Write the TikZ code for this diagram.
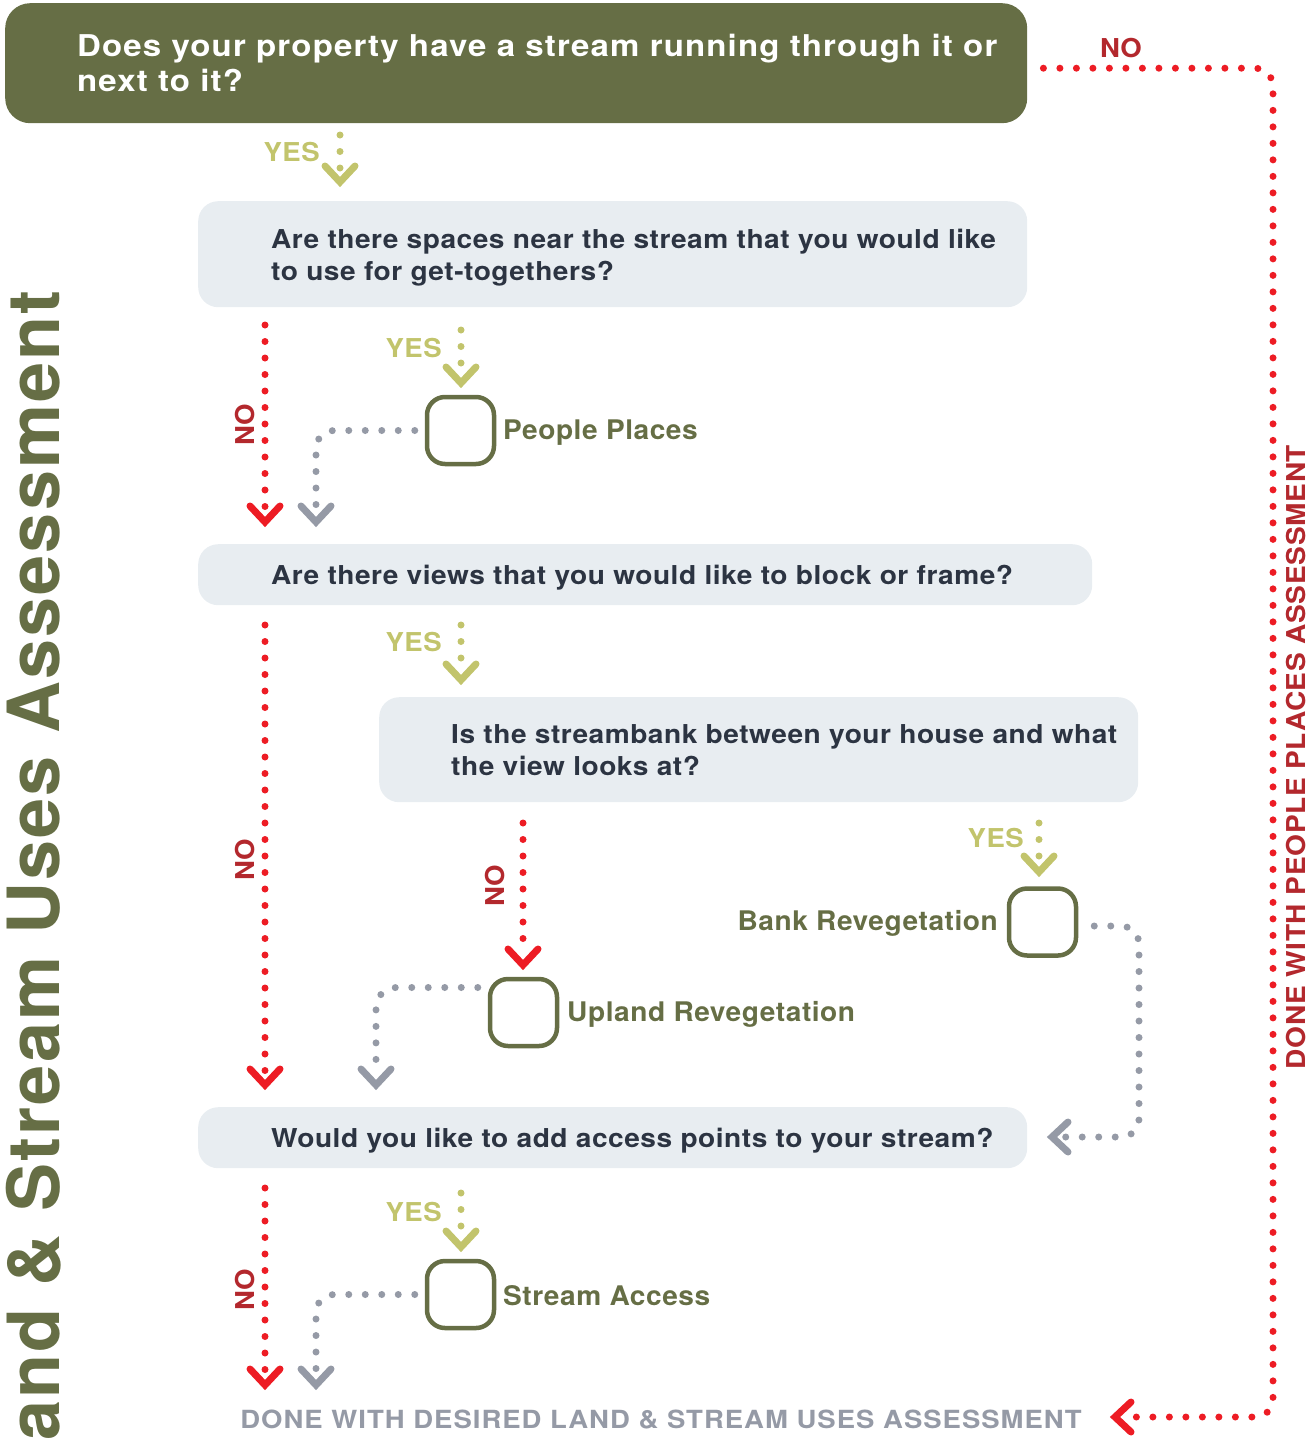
\documentclass[tikz,border=0pt]{standalone}
\usepackage{fontspec}
\setmainfont{TeX Gyre Heros}
\newfontfamily\fHdr[FakeStretch=1.10, LetterSpace=3.8]{TeX Gyre Heros}
\newfontfamily\fQ[FakeStretch=1.08, LetterSpace=2]{TeX Gyre Heros}
\newfontfamily\fLab[FakeStretch=1.04, LetterSpace=2]{TeX Gyre Heros}
\newfontfamily\fYes[FakeStretch=1.06, LetterSpace=2]{TeX Gyre Heros}
\newfontfamily\fNo[FakeStretch=1.06, LetterSpace=1]{TeX Gyre Heros}
\newfontfamily\fBot[FakeStretch=1.10, LetterSpace=4]{TeX Gyre Heros}
\newfontfamily\fRight[FakeStretch=1.08, LetterSpace=2.6]{TeX Gyre Heros}
\newfontfamily\fTitle[LetterSpace=3]{TeX Gyre Heros}
\usetikzlibrary{calc}
\definecolor{cOlive}{HTML}{666E45}
\definecolor{cBox}{HTML}{E8EDF1}
\definecolor{cQ}{HTML}{2C3442}
\definecolor{cYes}{HTML}{C2C46C}
\definecolor{cRed}{HTML}{ED1C24}
\definecolor{cNo}{HTML}{B3282D}
\definecolor{cGray}{HTML}{959AA6}
\tikzset{
  hdrbox/.style={fill=cOlive, draw=none, rounded corners=25, inner sep=0, anchor=north west},
  qbox/.style={fill=cBox, draw=none, rounded corners=20, inner sep=0, anchor=north west},
  qtext/.style={text=cQ, font=\fQ\fontsize{26}{32}\selectfont\bfseries, align=left, inner sep=0, anchor=north west},
  sq/.style={draw=cOlive, line width=4.5, rounded corners=18, minimum width=67, minimum height=67, inner sep=0},
  sqlabel/.style={text=cOlive, font=\fLab\fontsize{27}{32}\selectfont\bfseries, inner sep=0},
  yeslabel/.style={text=cYes, font=\fYes\fontsize{26}{30}\selectfont\bfseries, inner sep=0, anchor=east},
  nolabel/.style={text=cNo, font=\fNo\fontsize{26}{30}\selectfont\bfseries, inner sep=0},
  dotline/.style={line width=7, dash pattern=on 0pt off 16.5pt, line cap=round},
  chevron/.pic={\draw[line width=7, line cap=round, line join=miter, solid] (-15,-16) -- (0,0) -- (15,-16);}
}
\begin{document}
\begin{tikzpicture}[x=1pt, y=-1pt]
\useasboundingbox (0,0) rectangle (1311,1443);
\clip (0,0) rectangle (1311,1443);

% side title
\node[rotate=90, anchor=base east, inner sep=0, text=cOlive, font=\fTitle\fontsize{72}{72}\selectfont\bfseries] (title) at (59,290) {Land \& Stream Uses Assessment};

% header
\node[hdrbox, minimum width=1022, minimum height=120] (h) at (5,3) {};
\node[text=white, font=\fHdr\fontsize{30}{35}\selectfont\bfseries, align=left, inner sep=0, anchor=north west] (htext) at (77,34) {Does your property have a stream running through it or\\next to it?};

% question boxes
\node[qbox, minimum width=829, minimum height=106] (q2) at (198,201) {};
\node[qtext] (q2t) at (271,229) {Are there spaces near the stream that you would like\\to use for get-togethers?};
\node[qbox, minimum width=894, minimum height=61] (q3) at (198,544) {};
\node[qtext] (q3t) at (271,565) {Are there views that you would like to block or frame?};
\node[qbox, minimum width=759, minimum height=105] (q4) at (379,697) {};
\node[qtext] (q4t) at (451,724) {Is the streambank between your house and what\\the view looks at?};
\node[qbox, minimum width=829, minimum height=61] (q5) at (198,1107) {};
\node[qtext] (q5t) at (271,1128) {Would you like to add access points to your stream?};

% outcome squares
\node[sq] (pp) at (460.5,430.5) {};
\node[sqlabel, anchor=west] (ppl) at (503,433) {People Places};
\node[sq] (br) at (1042.5,922) {};
\node[sqlabel, anchor=east] (brl) at (998,923) {Bank Revegetation};
\node[sq] (ur) at (523.5,1012.5) {};
\node[sqlabel, anchor=west] (url) at (567,1014) {Upland Revegetation};
\node[sq] (sa) at (460.5,1294.5) {};
\node[sqlabel, anchor=west] (sal) at (503,1296) {Stream Access};

% bottom text
\node[text=cGray, font=\fBot\fontsize{25}{30}\selectfont\bfseries, inner sep=0] (done) at (661,1420) {DONE WITH DESIRED LAND \& STREAM USES ASSESSMENT};
% right text
\node[rotate=90, text=cNo, font=\fRight\fontsize{26}{30}\selectfont\bfseries, inner sep=0] (donepp) at (1296,757) {DONE WITH PEOPLE PLACES ASSESSMENT};

% YES labels
\node[yeslabel] (yes1) at (320,152) {YES};
\node[yeslabel] (yes2) at (442,348) {YES};
\node[yeslabel] (yes3) at (442,642) {YES};
\node[yeslabel] (yes4) at (1024,838) {YES};
\node[yeslabel] (yes5) at (442,1212) {YES};
% NO labels
\node[nolabel] (no0) at (1121,48) {NO};
\node[nolabel, rotate=90] (no1) at (245,425) {NO};
\node[nolabel, rotate=90] (no2) at (245,860) {NO};
\node[nolabel, rotate=90] (no3) at (495,886) {NO};
\node[nolabel, rotate=90] (no4) at (245,1290) {NO};

% coordinates for free ends
\coordinate (y1a) at (340,135); \coordinate (y1b) at (340,182);
\coordinate (y2a) at (461,330); \coordinate (y2b) at (461,383);
\coordinate (y3a) at (461,625); \coordinate (y3b) at (461,680);
\coordinate (y4a) at (1039,823); \coordinate (y4b) at (1039,872);
\coordinate (y5a) at (461,1193); \coordinate (y5b) at (461,1247);
\coordinate (n1a) at (265,325); \coordinate (n1b) at (265,522);
\coordinate (n2a) at (265,625); \coordinate (n2b) at (265,1085);
\coordinate (n3a) at (523,823); \coordinate (n3b) at (523,965);
\coordinate (n4a) at (265,1188); \coordinate (n4b) at (265,1385);
\coordinate (g1b) at (316,522);
\coordinate (g2b) at (376,1085);
\coordinate (g3b) at (316,1385);
\coordinate (g4b) at (1052,1137);
\coordinate (r0b) at (1115,1417);

% YES connectors
\foreach \a/\b in {y1a/y1b, y2a/y2b, y3a/y3b, y4a/y4b, y5a/y5b}{
  \draw[dotline, cYes] (\a) -- ($(\b)+(0,-12)$);
  \pic[cYes] at (\b) {chevron};
}
% NO connectors
\foreach \a/\b in {n1a/n1b, n2a/n2b, n3a/n3b, n4a/n4b}{
  \draw[dotline, cRed] (\a) -- ($(\b)+(0,-12)$);
  \pic[cRed] at (\b) {chevron};
}
% gray connectors from outcomes
\draw[dotline, cGray, rounded corners=18] ([xshift=-10]pp.west) -| ($(g1b)+(0,-12)$);
\pic[cGray] at (g1b) {chevron};
\draw[dotline, cGray, rounded corners=20] ([xshift=-10,yshift=25]ur.west) -| ($(g2b)+(0,-12)$);
\pic[cGray] at (g2b) {chevron};
\draw[dotline, cGray, rounded corners=18] ([xshift=-10]sa.west) -| ($(g3b)+(0,-12)$);
\pic[cGray] at (g3b) {chevron};
\draw[dotline, cGray, rounded corners=18] ([xshift=16,yshift=-4]br.east) -| (1139,1137) -- ($(g4b)+(12,0)$);
\pic[cGray, rotate=-90] at (g4b) {chevron};
% top NO connector
\draw[dotline, cRed, rounded corners=18] ([xshift=16,yshift=-5]h.east) -| (1273,1417) -- ($(r0b)+(12,0)$);
\pic[cRed, rotate=-90] at (r0b) {chevron};
\end{tikzpicture}
\end{document}
